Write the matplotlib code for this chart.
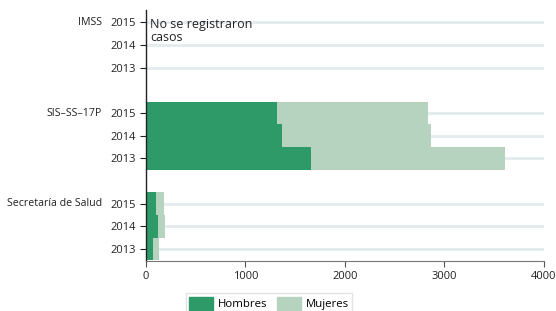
import numpy as np
import matplotlib.pyplot as plt
from matplotlib.patches import Patch

plt.rcParams['font.family'] = ['Open Sans', 'DejaVu Sans']

# data
instituciones = ["Secretaría de Salud", "SIS\u2013SS\u201317P", "IMSS"]
anios = ["2013", "2014", "2015"]
hombres = [[70, 121, 100],        # Secretaría de Salud
           [1658, 1367, 1317],    # SIS-SS-17P
           [2, 0, 0]]             # IMSS
mujeres = [[61, 70, 81],
           [1950, 1497, 1517],
           [4, 0, 0]]

c_hom = "#2e9a68"
c_muj = "#b5d3bf"
c_grid = "#e3ebee"

fig = plt.figure(figsize=(5.56, 3.11), dpi=100)
ax = fig.add_axes([0.2626, 0.161, 0.7154, 0.807])

pos = []
h_vals = []
m_vals = []
for g in range(len(instituciones)):
    for k in range(len(anios)):
        pos.append(g * 4 + k)
        h_vals.append(hombres[g][k])
        m_vals.append(mujeres[g][k])
pos = np.array(pos)
h_vals = np.array(h_vals)
m_vals = np.array(m_vals)

for p in pos:
    ax.plot([0, 4000], [p, p], color=c_grid, lw=2, zorder=0, solid_capstyle='butt')

ax.barh(pos, h_vals, height=1.0, color=c_hom, zorder=2, linewidth=0)
ax.barh(pos, m_vals, left=h_vals, height=1.0, color=c_muj, zorder=2, linewidth=0)

ax.set_xlim(0, 4000)
ax.set_ylim(-0.53, 10.55)
ax.set_xticks([0, 1000, 2000, 3000, 4000])
ax.set_yticks(pos)
ax.set_yticklabels(anios * len(instituciones))
ax.tick_params(axis='both', labelsize=8, colors='#222222', length=4, width=0.8)
ax.tick_params(axis='x', colors='#555555', labelcolor='#222222')

for s in ['top', 'right']:
    ax.spines[s].set_visible(False)
ax.spines['left'].set_color('#222222')
ax.spines['bottom'].set_color('#777777')
ax.spines['left'].set_linewidth(1.0)

# group names to the left of the year labels
for g, name in enumerate(instituciones):
    ax.annotate(name, xy=(0, g * 4 + 2), xycoords=('axes fraction', 'data'),
                xytext=(-31.5, 0), textcoords='offset points',
                ha='right', va='center', fontsize=7.7, color='#222222',
                annotation_clip=False)

ax.text(45, 10.2, "No se registraron\ncasos", ha='left', va='top', fontsize=9,
        color='#222222', linespacing=1.0)

handles = [Patch(color=c_hom, label="Hombres"), Patch(color=c_muj, label="Mujeres")]
fig.legend(handles=handles, loc='upper center', bbox_to_anchor=(0.484, 0.075),
           ncol=2, fontsize=8.2, frameon=True, fancybox=False, edgecolor='#dddddd',
           handlelength=2.1, handleheight=1.5, columnspacing=0.9, handletextpad=0.4,
           borderpad=0.3)

fig.savefig("out.png", dpi=100)
